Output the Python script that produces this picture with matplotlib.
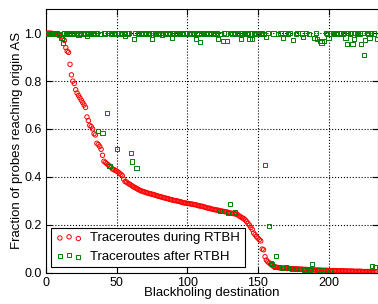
import matplotlib
matplotlib.use("Agg")
import matplotlib.pyplot as plt

plt.rcParams['font.family'] = ['Liberation Sans', 'DejaVu Sans']

# fraction reaching origin AS, per blackholing destination (sorted by "during")
during_rtbh = [
    1.0, 1.0, 1.0, 1.0, 1.0, 0.998, 0.998, 0.997, 0.996, 0.995,
    0.99, 0.985, 0.976, 0.97, 0.94, 0.925, 0.92, 0.87, 0.826, 0.80,
    0.79, 0.764, 0.75, 0.74, 0.73, 0.72, 0.71, 0.70, 0.69, 0.65,
    0.635, 0.615, 0.61, 0.60, 0.58, 0.575, 0.54, 0.535, 0.527, 0.515,
    0.49, 0.465, 0.46, 0.455, 0.45, 0.445, 0.44, 0.433, 0.43, 0.427,
    0.424, 0.42, 0.415, 0.41, 0.405, 0.39, 0.38, 0.378, 0.373, 0.37,
    0.366, 0.362, 0.358, 0.355, 0.352, 0.348, 0.345, 0.342, 0.34, 0.338,
    0.336, 0.334, 0.332, 0.33, 0.329, 0.327, 0.326, 0.324, 0.322, 0.32,
    0.318, 0.317, 0.315, 0.313, 0.312, 0.31, 0.309, 0.307, 0.305, 0.304,
    0.302, 0.301, 0.30, 0.299, 0.297, 0.296, 0.294, 0.292, 0.291, 0.29,
    0.289, 0.288, 0.287, 0.286, 0.285, 0.284, 0.283, 0.281, 0.279, 0.278,
    0.277, 0.276, 0.274, 0.272, 0.27, 0.269, 0.268, 0.266, 0.264, 0.263,
    0.262, 0.261, 0.26, 0.258, 0.257, 0.256, 0.255, 0.254, 0.253, 0.251,
    0.249, 0.248, 0.247, 0.246, 0.245, 0.244, 0.24, 0.235, 0.232, 0.228,
    0.225, 0.22, 0.213, 0.205, 0.198, 0.188, 0.18, 0.165, 0.158, 0.15,
    0.144, 0.137, 0.132, 0.098, 0.095, 0.066, 0.052, 0.045, 0.04, 0.035,
    0.03, 0.026, 0.024, 0.022, 0.021, 0.02, 0.019, 0.019, 0.018, 0.018,
    0.017, 0.017, 0.017, 0.016, 0.016, 0.016, 0.015, 0.015, 0.015, 0.014,
    0.014, 0.014, 0.013, 0.013, 0.013, 0.012, 0.012, 0.012, 0.011, 0.011,
    0.011, 0.010, 0.010, 0.010, 0.010, 0.009, 0.009, 0.009, 0.009, 0.009,
    0.008, 0.008, 0.008, 0.008, 0.008, 0.008, 0.007, 0.007, 0.007, 0.007,
    0.007, 0.007, 0.006, 0.006, 0.006, 0.006, 0.006, 0.006, 0.005, 0.005,
    0.005, 0.005, 0.005, 0.005, 0.004, 0.004, 0.004, 0.004, 0.004, 0.004,
    0.003, 0.003, 0.003, 0.003, 0.003,
]

after_rtbh = [
    1.0, 0.998, 1.0, 0.997, 1.0, 0.999, 1.0, 0.996, 1.0, 0.995,
    0.998, 0.98, 0.959, 1.0, 0.998, 1.0, 0.997, 1.0, 0.999, 1.0,
    0.998, 1.0, 0.997, 0.994, 1.0, 0.998, 1.0, 0.999, 0.996, 0.987,
    1.0, 0.998, 1.0, 0.997, 1.0, 0.999, 1.0, 0.593, 0.998, 0.996,
    0.582, 1.0, 0.999, 0.666, 1.0, 0.446, 0.998, 1.0, 0.997, 1.0,
    0.517, 0.999, 1.0, 0.996, 1.0, 0.998, 0.987, 1.0, 0.999, 1.0,
    0.501, 0.464, 0.977, 1.0, 0.436, 0.998, 1.0, 0.997, 1.0, 0.999,
    1.0, 0.996, 1.0, 0.998, 1.0, 0.977, 1.0, 0.999, 0.997, 1.0,
    0.998, 1.0, 0.995, 1.0, 0.999, 1.0, 0.997, 1.0, 0.998, 0.98,
    1.0, 0.999, 1.0, 0.996, 1.0, 0.998, 1.0, 0.997, 1.0, 0.999,
    1.0, 0.998, 1.0, 0.996, 0.999, 1.0, 0.976, 0.998, 1.0, 0.963,
    0.997, 1.0, 0.999, 1.0, 0.998, 1.0, 0.996, 1.0, 0.999, 1.0,
    0.997, 1.0, 0.976, 0.257, 0.998, 0.966, 1.0, 0.999, 0.966, 0.25,
    0.287, 1.0, 0.998, 1.0, 0.254, 0.997, 1.0, 0.999, 0.977, 1.0,
    0.998, 1.0, 0.996, 1.0, 0.977, 0.999, 0.977, 1.0, 0.998, 1.0,
    0.997, 1.0, 0.999, 1.0, 0.998, 0.45, 0.984, 1.0, 0.194, 0.041,
    0.035, 0.999, 0.024, 0.069, 0.998, 0.022, 1.0, 0.02, 0.98, 1.0,
    0.022, 0.997, 0.018, 1.0, 0.016, 0.973, 0.013, 0.998, 1.0, 0.015,
    0.013, 0.999, 0.984, 0.012, 1.0, 0.012, 0.998, 0.011, 0.034, 0.008,
    0.98, 1.0, 0.977, 0.011, 0.966, 0.961, 0.009, 0.966, 1.0, 0.998,
    0.98, 0.008, 0.999, 1.0, 0.997, 1.0, 0.998, 1.0, 0.999, 1.0,
    0.998, 1.0, 0.982, 0.956, 1.0, 0.999, 1.0, 0.956, 0.977, 1.0,
    0.998, 1.0, 0.999, 0.956, 1.0, 0.908, 0.97, 1.0, 0.998, 0.98,
    1.0, 0.027, 0.999, 0.022, 0.977,
]

destinations = list(range(len(during_rtbh)))

fig = plt.figure(figsize=(3.78, 3.04), dpi=100)
ax = fig.add_axes([0.1217, 0.1036, 0.8783, 0.8658])

ax.scatter(destinations, during_rtbh, s=10, marker='o', facecolors='none',
           edgecolors='red', linewidths=0.7, label='Traceroutes during RTBH', zorder=3)
ax.scatter(destinations, after_rtbh, s=9, marker='s', facecolors='none',
           edgecolors='green', linewidths=0.7, label='Traceroutes after RTBH', zorder=4)

ax.set_xlim(0, 235)
ax.set_ylim(0, 1.1)
ax.set_xticks([0, 50, 100, 150, 200])
ax.set_yticks([0.0, 0.2, 0.4, 0.6, 0.8, 1.0])
ax.set_yticklabels(['0.0', '0.2', '0.4', '0.6', '0.8', '1.0'])
ax.grid(True, color='black', linestyle=':', linewidth=0.8)
ax.set_axisbelow(True)
ax.tick_params(direction='in', top=True, right=True, labelsize=9, length=4, pad=3)

ax.set_xlabel('Blackholing destination', fontsize=9.5, labelpad=-1)
ax.set_ylabel('Fraction of probes reaching origin AS', fontsize=9.5, labelpad=1)

leg = ax.legend(loc='lower left', scatterpoints=3, scatteryoffsets=[0.375, 0.5, 0.3125],
                fontsize=9.5, fancybox=False, edgecolor='black', framealpha=1,
                borderaxespad=0.4, borderpad=0.35, labelspacing=0.45,
                handletextpad=0.6)
leg.get_frame().set_linewidth(0.8)

fig.savefig('out.png', dpi=100)
